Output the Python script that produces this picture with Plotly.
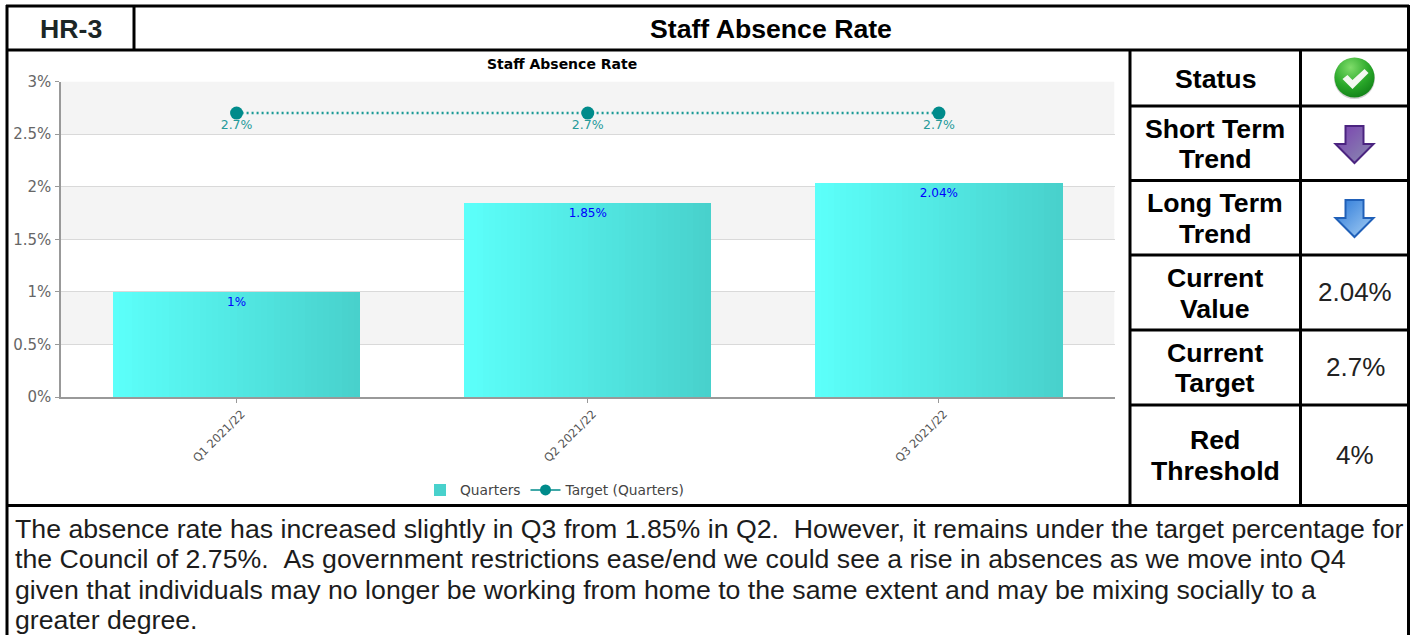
import base64
import plotly.graph_objects as go

categories = ["Q1 2021/22", "Q2 2021/22", "Q3 2021/22"]
quarters = [1, 1.85, 2.04]
target = [2.7, 2.7, 2.7]
bar_labels = ["1%", "1.85%", "2.04%"]
target_labels = ["2.7%", "2.7%", "2.7%"]
y_ticks = [0, 0.5, 1, 1.5, 2, 2.5, 3]
y_tick_labels = ["0%", "0.5%", "1%", "1.5%", "2%", "2.5%", "3%"]

W, H = 1412, 635
PX0, PX1, PY0, PY1 = 61, 1114.5, 81.5, 397
BAR_W = 0.704
SLICES = 40
LEFT_RGB = (92, 255, 250)
RIGHT_RGB = (72, 209, 204)
CHART_FONT = "DejaVu Sans"
TABLE_FONT = "Liberation Sans, Arial"


def fx(p):
    return p / W


def fy(p):
    return 1 - p / H


fig = go.Figure()
fig.add_trace(go.Bar(x=[0, 1, 2], y=quarters, name="Quarters", width=BAR_W,
                     marker=dict(color="#48d1cc", line=dict(width=0)),
                     legendgroup="a", hoverinfo="skip"))
dw = BAR_W / SLICES
for k in range(SLICES):
    t = k / (SLICES - 1)
    c = [round(a + (b - a) * t) for a, b in zip(LEFT_RGB, RIGHT_RGB)]
    fig.add_trace(go.Bar(x=[0, 1, 2], y=quarters, width=dw * 1.25 if k < SLICES - 1 else dw,
                         offset=-BAR_W / 2 + k * dw,
                         marker=dict(color=f"rgb({c[0]},{c[1]},{c[2]})", line=dict(width=0)),
                         showlegend=False, hoverinfo="skip"))
fig.add_trace(go.Scatter(x=[0, 1, 2], y=quarters, mode="markers+text", text=bar_labels,
                         textposition="bottom center",
                         textfont=dict(family=CHART_FONT, size=12, color="#0000ff"),
                         marker=dict(size=7, opacity=0),
                         showlegend=False, hoverinfo="skip"))
fig.add_trace(go.Scatter(x=[0, 1, 2], y=target, mode="lines+markers",
                         line=dict(color="#1a9a96", width=2.5, dash="2px 3px"),
                         marker=dict(color="#008b8b", size=13),
                         showlegend=False, hoverinfo="skip"))
fig.add_trace(go.Scatter(x=[0, 1, 2], y=target, mode="markers+text", text=target_labels,
                         textposition="bottom center",
                         textfont=dict(family=CHART_FONT, size=12.5, color="#259a9a"),
                         marker=dict(size=9, opacity=0),
                         showlegend=False, hoverinfo="skip"))
fig.add_trace(go.Scatter(x=[None], y=[None], mode="lines+markers", name="Target (Quarters)",
                         line=dict(color="#008b8b", width=1.5),
                         marker=dict(color="#008b8b", size=11)))

shapes = []
for lo, hi in [(2.5, 3), (1.5, 2), (0.5, 1)]:
    shapes.append(dict(type="rect", xref="x", yref="y", x0=-0.5, x1=2.5, y0=lo, y1=hi,
                       fillcolor="#f4f4f4", line_width=0, layer="below"))


def hline(y, x0, x1, w=3):
    shapes.append(dict(type="line", xref="paper", yref="paper", x0=fx(x0), x1=fx(x1),
                       y0=fy(y), y1=fy(y), line=dict(color="#000000", width=w)))


def vline(x, y0, y1, w=3):
    shapes.append(dict(type="line", xref="paper", yref="paper", x0=fx(x), x1=fx(x),
                       y0=fy(y0), y1=fy(y1), line=dict(color="#000000", width=w)))


hline(6, 6, 1409)
hline(50, 6, 1409)
hline(505.5, 6, 1409)
vline(7, 5, 635)
vline(1408.5, 5, 635)
vline(134, 6, 50)
vline(1130, 50, 505)
vline(1300.5, 50, 505)
for y in [106, 180.5, 255, 330, 405]:
    hline(y, 1130, 1409)

annotations = []


def label(x, y, s, size=26.67, bold=True, anchor="center", color="#000000"):
    annotations.append(dict(xref="paper", yref="paper", x=fx(x), y=fy(y), text=f"<b>{s}</b>" if bold else s,
                            showarrow=False, xanchor=anchor, yanchor="middle",
                            font=dict(family=TABLE_FONT, size=size, color=color)))


label(70.5, 29, "HR-3", color="#1c2626")
label(771, 29, "Staff Absence Rate")
label(1215, 79, "Status")
label(1215, 129, "Short Term")
label(1215, 159, "Trend")
label(1215, 203, "Long Term")
label(1215, 234, "Trend")
label(1215, 278, "Current")
label(1215, 309, "Value")
label(1215, 353, "Current")
label(1215, 383, "Target")
label(1215, 440, "Red")
label(1215, 471, "Threshold")
label(1355, 292, "2.04%", size=26, bold=False, color="#222222")
label(1355, 367, "2.7%", size=26, bold=False, color="#222222")
label(1355, 455, "4%", size=26, bold=False, color="#222222")

para = [
    "The absence rate has increased slightly in Q3 from 1.85% in Q2.\u00a0\u00a0However, it remains under the target percentage for",
    "the Council of 2.75%.\u00a0\u00a0As government restrictions ease/end we could see a rise in absences as we move into Q4",
    "given that individuals may no longer be working from home to the same extent and may be mixing socially to a",
    "greater degree.",
]
for i, line in enumerate(para):
    label(12.5, 529 + i * 30.4, line, size=26.7, bold=False, anchor="left", color="#1c1c1c")

annotations.append(dict(xref="paper", yref="paper", x=fx(562), y=fy(64), text="<b>Staff Absence Rate</b>",
                        showarrow=False, xanchor="center", yanchor="middle",
                        font=dict(family=CHART_FONT, size=14, color="#000000")))


def svg_uri(svg):
    return "data:image/svg+xml;base64," + base64.b64encode(svg.encode()).decode()


check = """<svg xmlns='http://www.w3.org/2000/svg' width='44' height='44' viewBox='0 0 44 44'>
<defs><radialGradient id='g' cx='0.4' cy='0.25' r='0.85'><stop offset='0' stop-color='#7fdc6a'/><stop offset='0.55' stop-color='#2aa82a'/><stop offset='1' stop-color='#0d7a14'/></radialGradient></defs>
<circle cx='22' cy='22.5' r='20.5' fill='#888' opacity='0.4'/><circle cx='22' cy='21.5' r='20' fill='url(#g)'/>
<path d='M10 23 L15 19 L20 24 L32 13 L36 17 L20 33 Z' fill='#f4f8f2'/></svg>"""


def arrow(top, bot, edge):
    return f"""<svg xmlns='http://www.w3.org/2000/svg' width='44' height='44' viewBox='0 0 44 44'>
<defs><linearGradient id='a' x1='0' y1='0' x2='1' y2='1'><stop offset='0' stop-color='{top}'/><stop offset='1' stop-color='{bot}'/></linearGradient></defs>
<path d='M13 2 H31 V20 H41 L22 39 L3 20 H13 Z' fill='url(#a)' stroke='{edge}' stroke-width='2'/></svg>"""


def icon(svg, cx, cy, size=44):
    return dict(source=svg_uri(svg), xref="paper", yref="paper", x=fx(cx - size / 2), y=fy(cy - size / 2),
                sizex=size / W, sizey=size / H, xanchor="left", yanchor="top", layer="above")


images = [
    icon(check, 1354.5, 78),
    icon(arrow("#7a3fb0", "#8a8fb0", "#4b2480"), 1354.5, 146),
    icon(arrow("#2a78d8", "#a8d0f4", "#2060b8"), 1354.5, 220),
]

fig.update_layout(
    width=W, height=H, margin=dict(l=0, r=0, t=0, b=0, autoexpand=False), paper_bgcolor="#ffffff",
    plot_bgcolor="#ffffff",
    barmode="overlay", bargap=0, shapes=shapes, annotations=annotations, images=images,
    showlegend=True,
    legend=dict(orientation="h", x=fx(555), xanchor="center", y=fy(490), yanchor="middle",
                font=dict(family=CHART_FONT, size=13.8, color="#444444"), bgcolor="rgba(0,0,0,0)",
                itemwidth=30, tracegroupgap=0),
    xaxis=dict(domain=[fx(PX0), fx(PX1)], range=[-0.5, 2.5], tickmode="array", tickvals=[0, 1, 2],
               ticktext=categories, tickangle=-45, ticks="outside", ticklen=4, tickcolor="#999999",
               showgrid=False, showline=True, linecolor="#999999", linewidth=1.5, zeroline=False,
               ticklabelshift=5,
               tickfont=dict(family=CHART_FONT, size=11.5, color="#555555")),
    yaxis=dict(domain=[fy(PY1), fy(PY0)], range=[0, 3], tickmode="array", tickvals=y_ticks,
               ticktext=y_tick_labels, ticks="outside", ticklen=4, tickcolor="#999999",
               showgrid=True, gridcolor="#d9d9d9", gridwidth=1, showline=True, linecolor="#999999",
               linewidth=1.5, zeroline=False, ticklabelstandoff=1,
               tickfont=dict(family=CHART_FONT, size=15, color="#666666")),
)

fig.write_html("out.html", config=dict(displayModeBar=False),
               post_script="document.body.style.margin='0';document.body.style.overflow='hidden';")
